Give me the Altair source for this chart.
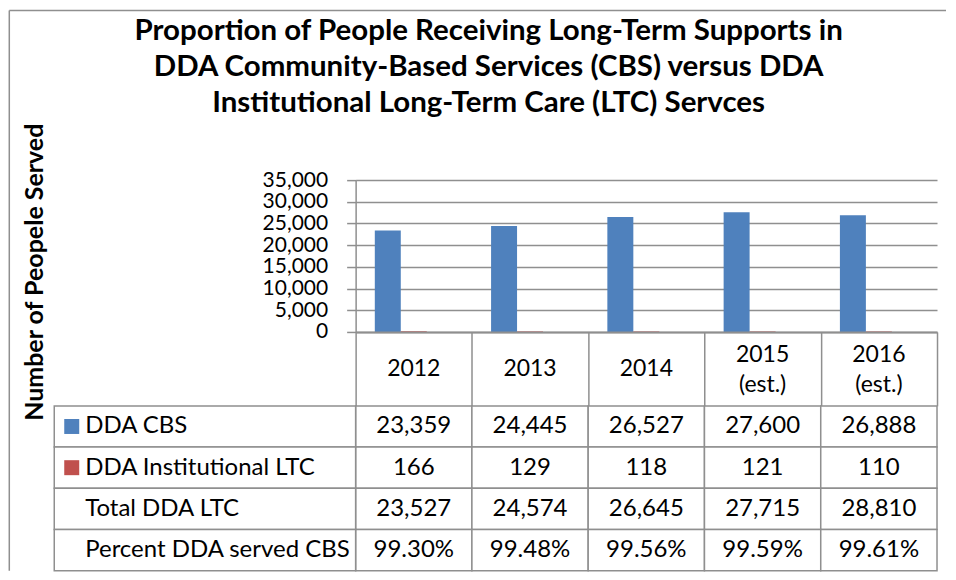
import altair as alt
import pandas as pd

# ---- data ----
years = ["2012", "2013", "2014", "2015 (est.)", "2016 (est.)"]
cbs = [23359, 24445, 26527, 27600, 26888]
inst = [166, 129, 118, 121, 110]
total = [23527, 24574, 26645, 27715, 28810]
pct = [99.30, 99.48, 99.56, 99.59, 99.61]
series = ["DDA CBS", "DDA Institutional LTC", "Total DDA LTC"]
rows = ["DDA CBS", "DDA Institutional LTC", "Total DDA LTC", "Percent DDA served CBS"]
y_ticks = [0, 5000, 10000, 15000, 20000, 25000, 30000, 35000]
title_lines = [
    "Proportion of People Receiving Long-Term Supports in",
    "DDA Community-Based Services (CBS) versus DDA",
    "Institutional Long-Term Care (LTC)  Servces",
]
y_title = "Number of Peopele Served"
colors = ["#4F81BD", "#C0504D"]

FONT = "Lato"
GRID = "#8f8f8f"
W = 582
H_PLOT = 152
H_TABLE = 165
HEADER = 74

bars_df = pd.DataFrame({
    "year": years * 2,
    "series": [series[0]] * len(years) + [series[1]] * len(years),
    "value": cbs + inst,
})
header_df = pd.DataFrame({"year": years})
row_text = {
    rows[0]: [f"{v:,}" for v in cbs],
    rows[1]: [f"{v:,}" for v in inst],
    rows[2]: [f"{v:,}" for v in total],
    rows[3]: [f"{v:.2f}%" for v in pct],
}
cells_df = pd.DataFrame([
    {"year": y, "row": r, "text": row_text[r][i]}
    for r in rows for i, y in enumerate(years)
])
labels_df = pd.DataFrame({"row": rows})
legend_df = pd.DataFrame({"row": rows[:2], "series": series[:2]})
frame_df = pd.DataFrame({"k": [0]})

color_scale = alt.Scale(domain=series[:2], range=colors)

# ---- bar chart ----
x_top = alt.X(
    "year:N", sort=years,
    scale=alt.Scale(paddingInner=0, paddingOuter=0),
    axis=alt.Axis(
        title=None, labels=False, zindex=1,
        tickBand="extent", tickSize=HEADER, tickColor=GRID, tickWidth=1.5,
        domainColor=GRID, domainWidth=2, grid=False,
    ),
)
y_top = alt.Y(
    "value:Q",
    scale=alt.Scale(domain=[0, 35000], nice=False),
    axis=alt.Axis(
        values=y_ticks, format=",d", labelFont=FONT, labelFontSize=21,
        labelColor="black", labelPadding=19, tickSize=9, tickColor=GRID,
        tickWidth=1.5, domainColor=GRID, domainWidth=1.5, gridColor=GRID,
        gridWidth=1.5, title=y_title, titleFont=FONT, titleFontSize=25,
        titleFontWeight="bold", titleColor="black", titleAngle=270,
        titleBaseline="alphabetic", titleAlign="center",
        titleX=-313.7, titleY=91.7,
    ),
)
bars = alt.Chart(bars_df).mark_bar().encode(
    x=x_top,
    xOffset=alt.XOffset("series:N", scale=alt.Scale(domain=series, paddingInner=0, paddingOuter=0.738)),
    y=y_top,
    color=alt.Color("series:N", scale=color_scale, legend=None),
)
# header row (category labels) under the plot
hdr_single = alt.Chart(header_df).transform_filter(
    "indexof(datum.year, ' ') < 0"
).mark_text(font=FONT, fontSize=23, color="black", align="center", baseline="middle").encode(
    x=x_top, y=alt.value(H_PLOT + 37.5), text="year:N"
)
hdr_double = alt.Chart(header_df).transform_filter(
    "indexof(datum.year, ' ') >= 0"
).transform_calculate(
    lines="split(datum.year, ' ')"
).mark_text(
    font=FONT, fontSize=23, color="black", align="center", baseline="middle", lineHeight=30
).encode(
    x=x_top, y=alt.value(H_PLOT + 23.5), text="lines:N"
)
frame_left = alt.Chart(frame_df).mark_rule(color=GRID, strokeWidth=1.5).encode(
    x=alt.value(-346.7), y=alt.value(-169.8), y2=alt.value(391)
)
frame_top = alt.Chart(frame_df).mark_rule(color=GRID, strokeWidth=1.5).encode(
    x=alt.value(-346.7), x2=alt.value(591), y=alt.value(-169.8)
)
top = alt.layer(bars, hdr_single, hdr_double, frame_left, frame_top).properties(
    width=W, height=H_PLOT
)

# ---- data table ----
x_tab = alt.X("year:N", sort=years, scale=alt.Scale(paddingInner=0, paddingOuter=0), axis=None)
y_tab = alt.Y("row:N", sort=rows, scale=alt.Scale(paddingInner=0, paddingOuter=0), axis=None)

cell_rects = alt.Chart(cells_df).mark_rect(fill="white", stroke=GRID, strokeWidth=1.5).encode(
    x=x_tab, y=y_tab
)
cell_text = alt.Chart(cells_df).mark_text(
    font=FONT, fontSize=24, color="black", align="center", baseline="middle"
).encode(x=x_tab, y=y_tab, text="text:N")
label_rects = alt.Chart(labels_df).mark_rect(fill="white", stroke=GRID, strokeWidth=1.5).encode(
    x=alt.value(-301.7), x2=alt.value(0), y=y_tab
)
label_text = alt.Chart(labels_df).mark_text(
    font=FONT, fontSize=24, color="black", align="left", baseline="middle"
).encode(x=alt.value(-270.7), y=y_tab, text="row:N")
legend_sq = alt.Chart(legend_df).mark_square(size=225, opacity=1).encode(
    x=alt.value(-284.2), y=y_tab,
    color=alt.Color("series:N", scale=color_scale, legend=None),
)
table = alt.layer(cell_rects, cell_text, label_rects, label_text, legend_sq).properties(
    width=W, height=H_TABLE
)

chart = alt.vconcat(top, table, spacing=HEADER, bounds="flush").resolve_scale(
    x="independent", y="independent"
).properties(
    padding=0,
    title=alt.TitleParams(
        text=title_lines, font=FONT, fontSize=29.5, fontWeight="bold",
        color="black", anchor="middle", lineHeight=36, dy=113, dx=11,
    ),
).configure_view(stroke="transparent")

chart.save("out.html", embed_options={"renderer": "svg", "actions": False})
